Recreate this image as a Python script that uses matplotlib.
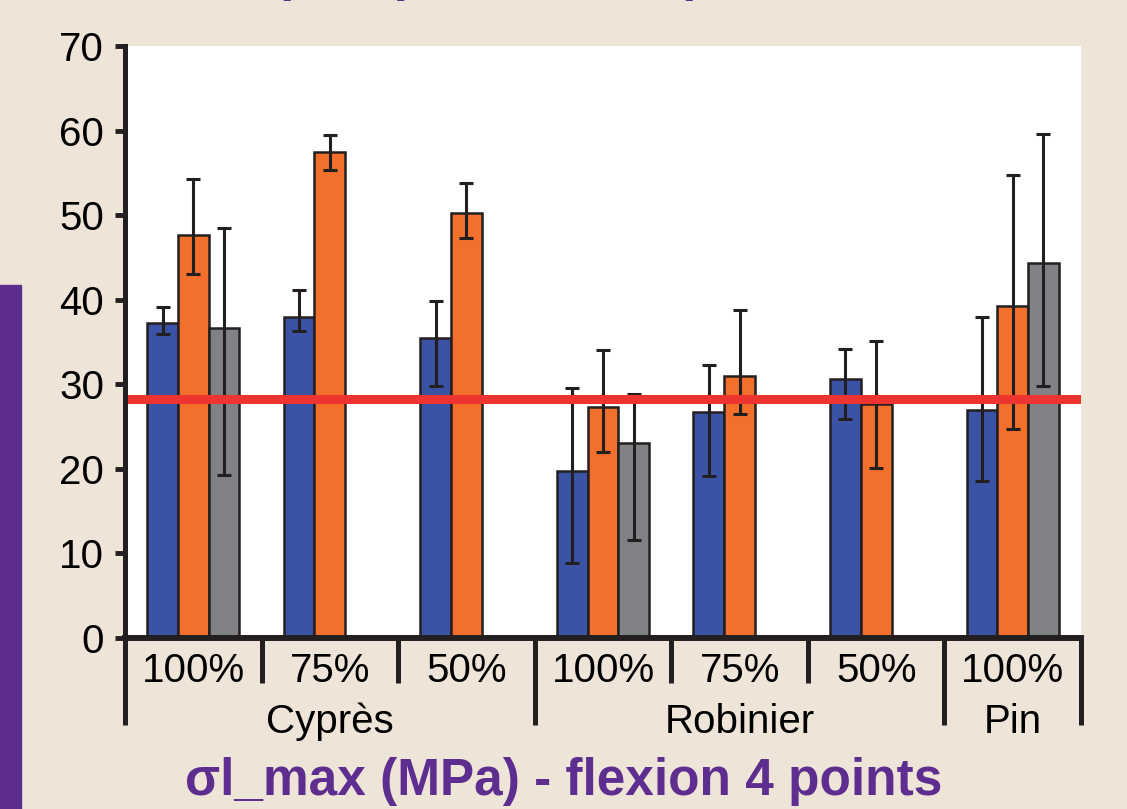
import numpy as np
import matplotlib
matplotlib.use("Agg")
import matplotlib.pyplot as plt
from matplotlib.patches import Rectangle
from matplotlib.lines import Line2D
import matplotlib.transforms as mtransforms

plt.rcParams['font.family'] = ['Liberation Sans', 'DejaVu Sans']

# ---------------- data ----------------
subcats = ['100%', '75%', '50%', '100%', '75%', '50%', '100%']
groups = ['Cyprès', 'Robinier', 'Pin']
group_spans = [(0, 2), (3, 5), (6, 6)]

blue = [37.2, 38.0, 35.5, 19.8, 26.7, 30.6, 27.0]
blue_lo = [36.0, 36.3, 29.8, 8.9, 19.2, 25.9, 18.6]
blue_hi = [39.1, 41.2, 39.9, 29.6, 32.3, 34.2, 37.9]

orange = [47.6, 57.5, 50.2, 27.3, 31.0, 27.7, 39.2]
orange_lo = [43.0, 55.3, 47.3, 22.0, 26.5, 20.1, 24.7]
orange_hi = [54.3, 59.5, 53.8, 34.1, 38.8, 35.1, 54.7]

gray_idx = [0, 3, 6]
gray = [36.6, 23.1, 44.4]
gray_lo = [19.3, 11.6, 29.8]
gray_hi = [48.5, 28.8, 59.6]

threshold = 28.3

title = "σl_max (MPa) - flexion 4 points"
top_title = "σl_max (MPa) - flexion 3 points"

yticks = [0, 10, 20, 30, 40, 50, 60, 70]

# ---------------- style ----------------
C_BLUE = '#3A53A4'
C_ORANGE = '#F2702B'
C_GRAY = '#808285'
C_EDGE = '#231F20'
C_RED = '#EE3431'
C_PURPLE = '#5D2E8F'
C_BG = '#EEE4D7'

W, H = 1127, 809
fig = plt.figure(figsize=(W / 100, H / 100), dpi=100, facecolor=C_BG)

ax_left, ax_right, ax_bot, ax_top = 125, 1081, 638, 46
ax = fig.add_axes([ax_left / W, (H - ax_bot) / H,
                   (ax_right - ax_left) / W, (ax_bot - ax_top) / H])
ax.set_facecolor('white')

x = np.arange(len(subcats))
bw = 0.225

def draw_series(xpos, vals, lo, hi, color):
    vals = np.asarray(vals, float)
    lo = np.asarray(lo, float)
    hi = np.asarray(hi, float)
    ax.bar(xpos, vals, width=bw, color=color, edgecolor=C_EDGE,
           linewidth=1.8, zorder=3)
    ax.errorbar(xpos, vals, yerr=[vals - lo, hi - vals], fmt='none',
                ecolor=C_EDGE, elinewidth=2.2, capsize=5.2, capthick=2.2,
                zorder=4)

draw_series(x - bw, blue, blue_lo, blue_hi, C_BLUE)
draw_series(x, orange, orange_lo, orange_hi, C_ORANGE)
draw_series(np.asarray(gray_idx) + bw, gray, gray_lo, gray_hi, C_GRAY)

ax.axhline(threshold, color=C_RED, linewidth=6.5, zorder=10)

ax.set_xlim(-0.5, len(subcats) - 0.5)
ax.set_ylim(0, 70)
ax.set_yticks(yticks)
ax.set_yticklabels([str(t) for t in yticks])
ax.set_xticks([])
ax.tick_params(axis='y', direction='out', length=7, width=3.5,
               color=C_EDGE, pad=8, labelsize=29, labelcolor='black')

for s in ['top', 'right']:
    ax.spines[s].set_visible(False)
ax.spines['left'].set_linewidth(3.6)
ax.spines['left'].set_color(C_EDGE)
ax.spines['bottom'].set_linewidth(4.3)
ax.spines['bottom'].set_color(C_EDGE)
ax.spines['left'].set_zorder(12)
ax.spines['bottom'].set_zorder(12)

# category separators below the axis
trans = mtransforms.blended_transform_factory(ax.transData, ax.transAxes)
small_y = -(683 - ax_bot) / (ax_bot - ax_top)
large_y = -(725 - ax_bot) / (ax_bot - ax_top)
big_bounds = [-0.5, 2.5, 5.5, 6.5]
for b in np.arange(-0.5, len(subcats), 1.0):
    yend = large_y if any(abs(b - bb) < 1e-6 for bb in big_bounds) else small_y
    ax.add_line(Line2D([b, b], [0, yend], transform=trans, color=C_EDGE,
                       linewidth=3.6, solid_capstyle='butt', clip_on=False,
                       zorder=12))

row1_y = -(682 - ax_bot) / (ax_bot - ax_top)
row2_y = -(733 - ax_bot) / (ax_bot - ax_top)
for xi, lab in zip(x, subcats):
    ax.text(xi, row1_y, lab, transform=trans, ha='center', va='baseline',
            fontsize=29, color='black')
for g, (a, b) in zip(groups, group_spans):
    ax.text((a + b) / 2, row2_y, g, transform=trans, ha='center',
            va='baseline', fontsize=29, color='black')

# titles
fig.text(564 / W, (H - 795) / H, title, ha='center', va='baseline',
         fontsize=37, fontweight='bold', color=C_PURPLE)
# partially visible title of the panel above (cut by the top edge, as in the source)
fig.text(458 / W, (H + 10) / H, top_title, ha='center', va='baseline',
         fontsize=37, fontweight='bold', color=C_PURPLE)

# purple frame on the left edge
fig.patches.append(Rectangle((0, 0), 21 / W, (H - 285) / H,
                             transform=fig.transFigure, color=C_PURPLE,
                             zorder=0))

fig.savefig('out.png', dpi=100, facecolor=C_BG)
